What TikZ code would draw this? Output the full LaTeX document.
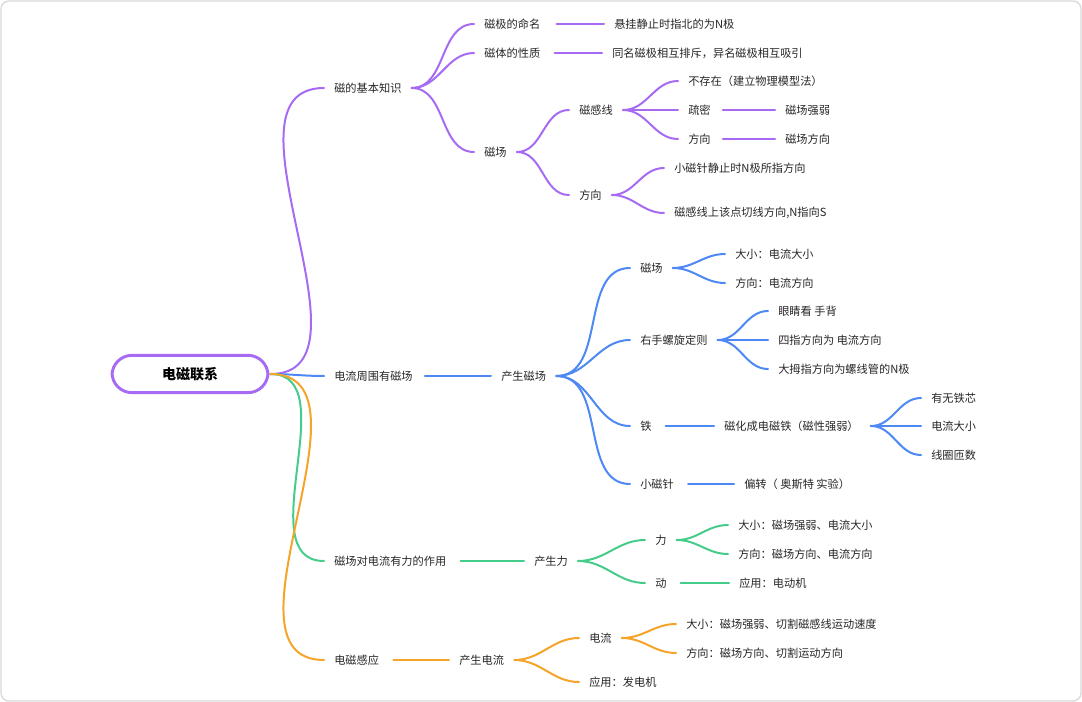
\documentclass[tikz,border=0pt]{standalone}
\usepackage{fontspec}
\setmainfont{Noto Sans CJK SC}
\begin{document}
\begin{tikzpicture}[x=0.75pt,y=-0.75pt,
  t/.style={anchor=west,inner sep=0pt,font=\fontsize{8.4}{10}\selectfont,text=black!85},
  e/.style={line width=1.5pt,line cap=round}]
\definecolor{pu}{HTML}{A66BF2}
\definecolor{bl}{HTML}{4D88F5}
\definecolor{gr}{HTML}{45CC8A}
\definecolor{or}{HTML}{F5A42A}
\newcommand\ed[4][10]{\draw[e,#2] ([shift={(#1,0)}]#3.east) to[out=0,in=180] ([shift={(-10,0)}]#4.west);}
\useasboundingbox (0,0) rectangle (1082,702);
\draw[black!15,line width=1pt,rounded corners=6] (1,1) rectangle (1081,701);
\node[draw=pu,line width=2.2pt,rounded corners=15,minimum width=117pt,minimum height=28pt,font=\bfseries\fontsize{10.5}{12}\selectfont] (root) at (190,374) {电磁联系};
% level 1
\node[t] (a) at (334,88) {磁的基本知识};
\node[t] (b) at (334,376) {电流周围有磁场};
\node[t] (c) at (334,561) {磁场对电流有力的作用};
\node[t] (d) at (334,660) {电磁感应};
\ed[1]{pu}{root}{a}\ed[1]{bl}{root}{b}\ed[1]{gr}{root}{c}\ed[1]{or}{root}{d}
% purple
\node[t] (a1) at (484,24) {磁极的命名};
\node[t] (a2) at (484,53) {磁体的性质};
\node[t] (a3) at (484,152) {磁场};
\ed{pu}{a}{a1}\ed{pu}{a}{a2}\ed{pu}{a}{a3}
\node[t] (a11) at (614,24) {悬挂静止时指北的为N极};
\node[t] (a21) at (612,53) {同名磁极相互排斥，异名磁极相互吸引};
\ed[16]{pu}{a1}{a11}\ed[14]{pu}{a2}{a21}
\node[t] (a31) at (579,110) {磁感线};
\node[t] (a32) at (579,195) {方向};
\ed{pu}{a3}{a31}\ed{pu}{a3}{a32}
\node[t] (b1) at (688,81) {不存在（建立物理模型法）};
\node[t] (b2) at (688,110) {疏密};
\node[t] (b3) at (688,139) {方向};
\ed{pu}{a31}{b1}\ed{pu}{a31}{b2}\ed{pu}{a31}{b3}
\node[t] (b21) at (785,110) {磁场强弱};
\node[t] (b31) at (785,139) {磁场方向};
\ed[12]{pu}{b2}{b21}\ed[12]{pu}{b3}{b31}
\node[t] (c1) at (674,168) {小磁针静止时N极所指方向};
\node[t] (c2) at (674,213) {磁感线上该点切线方向,N指向S};
\ed{pu}{a32}{c1}\ed{pu}{a32}{c2}
% blue
\node[t] (bb) at (501,376) {产生磁场};
\ed[12]{bl}{b}{bb}
\node[t] (m1) at (640,268) {磁场};
\node[t] (m2) at (640,340) {右手螺旋定则};
\node[t] (m3) at (640,426) {铁};
\node[t] (m4) at (640,484) {小磁针};
\ed{bl}{bb}{m1}\ed{bl}{bb}{m2}\ed{bl}{bb}{m3}\ed{bl}{bb}{m4}
\node[t] (m11) at (735,254) {大小：电流大小};
\node[t] (m12) at (735,283) {方向：电流方向};
\ed{bl}{m1}{m11}\ed{bl}{m1}{m12}
\node[t] (m21) at (778,311) {眼睛看 手背};
\node[t] (m22) at (778,340) {四指方向为 电流方向};
\node[t] (m23) at (778,369) {大拇指方向为螺线管的N极};
\ed{bl}{m2}{m21}\ed{bl}{m2}{m22}\ed{bl}{m2}{m23}
\node[t] (m31) at (724,426) {磁化成电磁铁（磁性强弱）};
\ed[14]{bl}{m3}{m31}
\node[t] (m311) at (931,398) {有无铁芯};
\node[t] (m312) at (931,426) {电流大小};
\node[t] (m313) at (931,455) {线圈匝数};
\ed[12]{bl}{m31}{m311}\ed[12]{bl}{m31}{m312}\ed[12]{bl}{m31}{m313}
\node[t] (m41) at (744,484) {偏转（ 奥斯特 实验）};
\ed[14]{bl}{m4}{m41}
% green
\node[t] (g) at (534,561) {产生力};
\ed[14]{gr}{c}{g}
\node[t] (g1) at (655,540) {力};
\node[t] (g2) at (655,583) {动};
\ed{gr}{g}{g1}\ed{gr}{g}{g2}
\node[t] (g11) at (738,525) {大小：磁场强弱、电流大小};
\node[t] (g12) at (738,554) {方向：磁场方向、电流方向};
\ed{gr}{g1}{g11}\ed{gr}{g1}{g12}
\node[t] (g21) at (739,583) {应用：电动机};
\ed[14]{gr}{g2}{g21}
% orange
\node[t] (o) at (459,660) {产生电流};
\ed[14]{or}{d}{o}
\node[t] (o1) at (589,638) {电流};
\node[t] (o2) at (589,682) {应用：发电机};
\ed{or}{o}{o1}\ed{or}{o}{o2}
\node[t] (o11) at (686,624) {大小：磁场强弱、切割磁感线运动速度};
\node[t] (o12) at (686,653) {方向：磁场方向、切割运动方向};
\ed{or}{o1}{o11}\ed{or}{o1}{o12}
\end{tikzpicture}
\end{document}
